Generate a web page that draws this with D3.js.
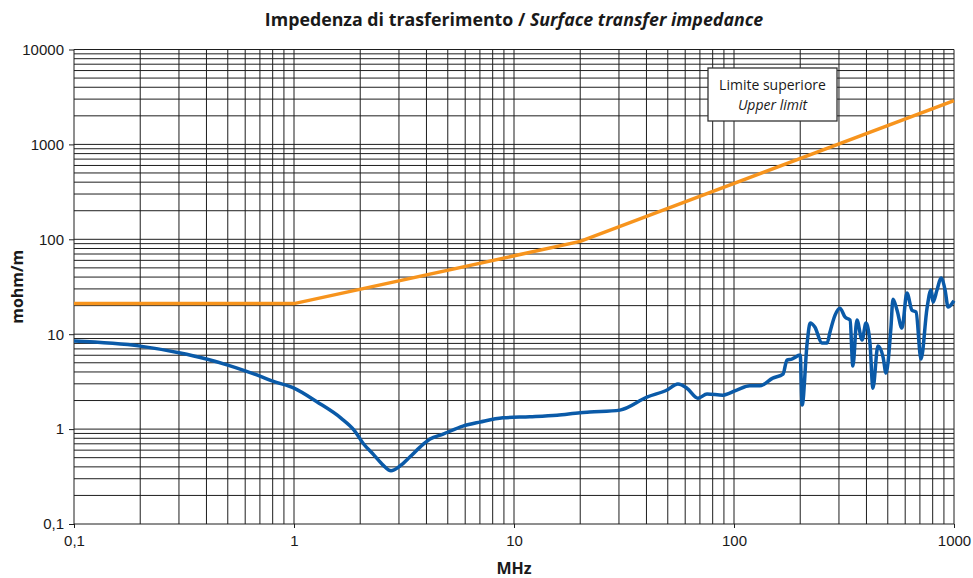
<!DOCTYPE html>
<meta charset="utf-8">
<style>
body { margin: 0; background: #fff; font-family: "Liberation Sans", Arial, sans-serif; }
.grid line { stroke: #1e1e1e; stroke-width: 1; }
.axis path { display: none; }
.axis line { stroke: #1e1e1e; }
.axis text { font-size: 15px; fill: #1a1a1a; font-family: "Liberation Sans", Arial, sans-serif; }
.title { font-family: "Open Sans", sans-serif; font-size: 17.8px; font-weight: bold; text-anchor: middle; fill: #1a1a1a; }
.lable { font-family: "Open Sans", sans-serif; font-size: 16px; font-weight: bold; text-anchor: middle; fill: #1a1a1a; }
.legend { font-family: "Open Sans", sans-serif; font-size: 14px; text-anchor: middle; fill: #1a1a1a; }
</style>
<body>
<script src="https://d3js.org/d3.v7.min.js"></script>
<script>

// frequency (MHz) / impedance (mohm/m)
var measFreq = [0.1, 0.2, 0.3, 0.4, 0.5, 0.6, 0.7, 0.8, 1.0, 1.27, 1.635, 1.874, 2.06, 2.31, 2.54, 2.76, 3.03, 3.37, 3.74, 4.15, 4.76, 5.86, 7.0, 8.91, 11.8, 15.7, 20, 22.1, 30.3, 40.2, 49.6, 55.6, 61.1, 68.6, 75.4, 89.1, 103, 118, 131, 150, 167, 174, 183, 200, 204, 215, 222, 233, 251, 265, 273, 288, 303, 320, 337, 347, 362, 382, 398, 415, 428, 451, 476, 491, 517, 528, 551, 580, 611, 644, 672, 708, 754, 786, 803, 837, 873, 911, 940, 990, 1000];
var measValue = [8.46, 7.49, 6.37, 5.47, 4.72, 4.11, 3.62, 3.2, 2.7, 1.94, 1.306, 0.976, 0.71, 0.532, 0.417, 0.364, 0.408, 0.511, 0.646, 0.785, 0.886, 1.075, 1.185, 1.315, 1.35, 1.4, 1.485, 1.51, 1.585, 2.17, 2.58, 2.98, 2.7, 2.12, 2.34, 2.28, 2.58, 2.86, 2.86, 3.45, 3.8, 5.33, 5.47, 6.02, 1.79, 8.06, 13.1, 11.9, 8.06, 8.06, 10.5, 15.9, 18.8, 15.1, 14.1, 4.61, 14.1, 8.67, 13.1, 8.06, 2.7, 7.49, 5.74, 3.89, 11.9, 23.4, 17.9, 11.6, 27.1, 17.9, 17.1, 5.47, 18.8, 29.2, 21.8, 29.2, 39.0, 29.2, 19.3, 21.8, 22.5];

var limitFreq = [0.1, 1, 20, 1000];
var limitValue = [21, 21, 95, 2900];

var xTicks = [0.1, 1, 10, 100, 1000];
var xTickLabels = ["0,1", "1", "10", "100", "1000"];
var yTicks = [0.1, 1, 10, 100, 1000, 10000];
var yTickLabels = ["0,1", "1", "10", "100", "1000", "10000"];

var margin = {top: 49.5, right: 19, bottom: 54, left: 74},
    width = 973 - margin.left - margin.right,
    height = 578 - margin.top - margin.bottom;

var x = d3.scaleLog().domain([0.1, 1000]).range([0, width]);
var y = d3.scaleLog().domain([0.1, 10000]).range([height, 0]);

// every 1..9 step of each decade
function minorSteps(lo, hi) {
    var out = [];
    for (var d = lo; d < hi * 0.999; d *= 10)
        for (var k = 1; k < 10; k++) out.push(d * k);
    out.push(hi);
    return out;
}

var svg = d3.select("body").append("svg")
    .attr("width", 973)
    .attr("height", 578)
  .append("g")
    .attr("transform", "translate(" + margin.left + "," + margin.top + ")");

var grid = svg.append("g").attr("class", "grid");
grid.selectAll(".gx").data(minorSteps(0.1, 1000)).enter().append("line")
    .attr("x1", function(d) { return x(d); })
    .attr("x2", function(d) { return x(d); })
    .attr("y1", 0).attr("y2", height);
grid.selectAll(".gy").data(minorSteps(0.1, 10000)).enter().append("line")
    .attr("y1", function(d) { return y(d); })
    .attr("y2", function(d) { return y(d); })
    .attr("x1", 0).attr("x2", width);

svg.append("g")
    .attr("class", "x axis")
    .attr("transform", "translate(0," + height + ")")
    .call(d3.axisBottom(x).tickValues(xTicks).tickSize(4).tickPadding(7)
        .tickFormat(function(d, i) { return xTickLabels[i]; }));

svg.append("g")
    .attr("class", "y axis")
    .call(d3.axisLeft(y).tickValues(yTicks).tickSize(5).tickPadding(5)
        .tickFormat(function(d, i) { return yTickLabels[i]; }));

var line = d3.line()
    .x(function(d) { return x(d[0]); })
    .y(function(d) { return y(d[1]); });

svg.append("path")
    .attr("d", line(d3.zip(limitFreq, limitValue)))
    .attr("fill", "none")
    .attr("stroke", "#f7941d")
    .attr("stroke-width", 3.5);

svg.append("path")
    .attr("d", line.curve(d3.curveMonotoneX)(d3.zip(measFreq, measValue)))
    .attr("fill", "none")
    .attr("stroke", "#0a5aa8")
    .attr("stroke-width", 3.5)
    .attr("stroke-linejoin", "round");

// legend box
var lg = svg.append("g").attr("transform", "translate(" + (708 - margin.left) + "," + (68 - margin.top) + ")");
lg.append("rect").attr("width", 129).attr("height", 53)
    .attr("fill", "#fff").attr("stroke", "#333").attr("stroke-width", 1.3);
lg.append("text").attr("class", "legend").attr("x", 64.5).attr("y", 22).text("Limite superiore");
lg.append("text").attr("class", "legend").attr("x", 64.5).attr("y", 42).style("font-style", "italic").text("Upper limit");

// title and axis labels
var title = svg.append("text").attr("class", "title").attr("x", width / 2).attr("y", 26 - margin.top);
title.append("tspan").text("Impedenza di trasferimento / ");
title.append("tspan").style("font-style", "italic").text("Surface transfer impedance");

svg.append("text").attr("class", "lable").attr("x", width / 2).attr("y", 574 - margin.top).text("MHz");

svg.append("text").attr("class", "lable")
    .attr("transform", "translate(" + (23 - margin.left) + "," + (height / 2) + ") rotate(-90)")
    .text("mohm/m");

</script>
</body>
